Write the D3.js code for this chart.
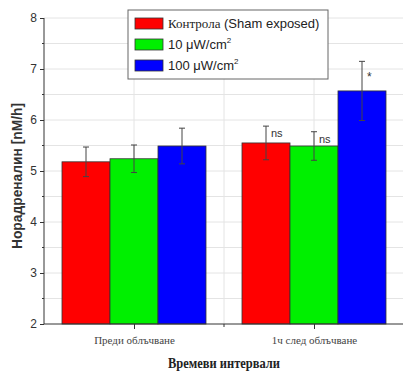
<!DOCTYPE html>
<html>
<head>
<meta charset="utf-8">
<script src="https://cdn.jsdelivr.net/npm/d3@7"></script>
<style>
  body { margin: 0; background: #fff; }
  svg { display: block; }
</style>
</head>
<body>
<svg id="chart" width="403" height="371"></svg>
<script>
// data
const categories = ["Преди облъчване", "1ч след облъчване"];
const seriesNames = ["Контрола", "10 μW/cm", "100 μW/cm"];
const seriesColors = ["#ff0000", "#00f000", "#0000ff"];
const controlValues = [5.18, 5.55];
const controlErrors = [0.29, 0.33];
const lowValues = [5.24, 5.49];
const lowErrors = [0.27, 0.28];
const highValues = [5.49, 6.57];
const highErrors = [0.35, 0.58];
const marks = [["", "ns"], ["", "ns"], ["", "*"]];
const yTicks = [2, 3, 4, 5, 6, 7, 8];
const yMinor = [2.5, 3.5, 4.5, 5.5, 6.5, 7.5];

const svg = d3.select("#chart");
const sans = "Arial, 'Liberation Sans', sans-serif";
const serif = "'Times New Roman', 'Liberation Serif', serif";

const x = d3.scaleLinear().domain([0.5, 2.5]).range([44, 404]);
const y = d3.scaleLinear().domain([2, 8]).range([324, 18]);
const barW = 0.8 / 3;

const series = [
  { vals: controlValues, errs: controlErrors },
  { vals: lowValues, errs: lowErrors },
  { vals: highValues, errs: highErrors }
];

// grid
const grid = svg.append("g").attr("stroke", "#e4e4e4").attr("stroke-width", 1);
yTicks.concat(yMinor).filter(d => d > 2).forEach(d => {
  grid.append("line").attr("x1", x(0.5)).attr("x2", x(2.5))
    .attr("y1", y(d)).attr("y2", y(d));
});
[1, 1.5, 2].forEach(d => {
  grid.append("line").attr("x1", x(d)).attr("x2", x(d))
    .attr("y1", y(2)).attr("y2", y(8));
});

// bars
series.forEach((s, si) => {
  const g = svg.append("g");
  s.vals.forEach((v, ci) => {
    const x0 = ci + 1 - 0.4 + si * barW;
    g.append("rect")
      .attr("x", x(x0))
      .attr("y", y(v))
      .attr("width", x(x0 + barW) - x(x0))
      .attr("height", y(2) - y(v))
      .attr("fill", seriesColors[si])
      .attr("stroke", "#333")
      .attr("stroke-width", 0.8);
  });
});

// error bars
series.forEach((s, si) => {
  const g = svg.append("g").attr("stroke", "#444").attr("stroke-width", 1);
  s.vals.forEach((v, ci) => {
    const cx = x(ci + 1 - 0.4 + (si + 0.5) * barW);
    const hi = y(v + s.errs[ci]), lo = y(v - s.errs[ci]);
    g.append("line").attr("x1", cx).attr("x2", cx).attr("y1", hi).attr("y2", lo);
    g.append("line").attr("x1", cx - 3).attr("x2", cx + 3).attr("y1", hi).attr("y2", hi);
    g.append("line").attr("x1", cx - 3).attr("x2", cx + 3).attr("y1", lo).attr("y2", lo);
    const m = marks[si][ci];
    if (m) {
      svg.append("text")
        .attr("x", cx + 5)
        .attr("y", m === "*" ? y(v + s.errs[ci]) + 20 : hi + 11)
        .attr("font-family", sans)
        .attr("font-size", m === "*" ? 12 : 11)
        .attr("fill", "#333")
        .text(m);
    }
  });
});

// y axis
const yAxis = svg.append("g").attr("transform", `translate(${x(0.5)},0)`)
  .call(d3.axisLeft(y).tickValues(yTicks).tickFormat(d3.format("d")).tickSize(4).tickPadding(3));
yAxis.append("g").selectAll("line").data(yMinor).join("line")
  .attr("x2", -2).attr("y1", d => y(d)).attr("y2", d => y(d)).attr("stroke", "#333");
yAxis.selectAll("text").attr("font-family", sans).attr("font-size", 12).attr("fill", "#333");
yAxis.selectAll("path, line").attr("stroke", "#333");
yAxis.select(".domain").attr("d", `M0,${y(2)}V${y(8)}`);

// x axis
const xAxis = svg.append("g").attr("transform", `translate(0,${y(2)})`)
  .call(d3.axisBottom(x).tickValues([1, 2]).tickFormat((d, i) => categories[i]).tickSize(5).tickPadding(7));
xAxis.append("line").attr("x1", x(1.5)).attr("x2", x(1.5)).attr("y1", 0).attr("y2", 3).attr("stroke", "#333");
xAxis.selectAll("text").attr("font-family", serif).attr("font-size", 11).attr("fill", "#444");
xAxis.selectAll("path, line").attr("stroke", "#333");
xAxis.select(".domain").attr("d", `M${x(0.5)},0H${x(2.5)}`);

// axis titles
svg.append("text")
  .attr("transform", "translate(22,176) rotate(-90)")
  .attr("text-anchor", "middle")
  .attr("font-family", sans)
  .attr("font-size", 14)
  .attr("font-weight", "bold")
  .attr("fill", "#333")
  .attr("textLength", 146)
  .attr("lengthAdjust", "spacingAndGlyphs")
  .text("Норадреналин [nM/h]");

svg.append("text")
  .attr("x", 224).attr("y", 368)
  .attr("text-anchor", "middle")
  .attr("font-family", serif)
  .attr("font-size", 15)
  .attr("font-weight", "bold")
  .attr("fill", "#222")
  .attr("textLength", 112)
  .attr("lengthAdjust", "spacingAndGlyphs")
  .text("Времеви интервали");

// legend
const legend = svg.append("g").attr("transform", "translate(128,10)");
legend.append("rect").attr("width", 200).attr("height", 69)
  .attr("fill", "#fff").attr("stroke", "#666").attr("stroke-width", 1);
seriesNames.forEach((name, i) => {
  const row = legend.append("g").attr("transform", `translate(7,${8 + i * 21})`);
  row.append("rect").attr("width", 28).attr("height", 11)
    .attr("fill", seriesColors[i]).attr("stroke", "#333").attr("stroke-width", 0.8);
  const t = row.append("text").attr("x", 33).attr("y", 10)
    .attr("font-family", sans).attr("font-size", 13).attr("fill", "#222");
  if (i === 0) {
    t.append("tspan").attr("font-family", serif).text(name);
    t.append("tspan").text(" (Sham exposed)");
  } else {
    t.append("tspan").text(name);
    t.append("tspan").attr("font-size", 8).attr("dy", -6).text("2");
  }
});
</script>
</body>
</html>
